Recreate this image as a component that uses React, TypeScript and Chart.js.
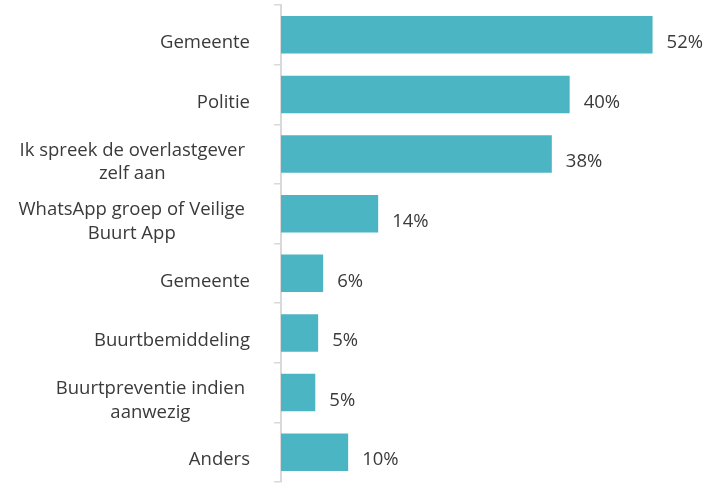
import React, { useEffect, useRef } from 'react';
import { Chart, registerables } from 'chart.js';

Chart.register(...registerables);

const categories: (string | string[])[] = [
  'Gemeente',
  'Politie',
  ['Ik spreek de overlastgever', 'zelf aan'],
  ['WhatsApp groep of Veilige', 'Buurt App'],
  'Gemeente',
  'Buurtbemiddeling',
  ['Buurtpreventie indien', 'aanwezig'],
  'Anders',
];
const values = [52, 40.4, 37.9, 13.6, 5.9, 5.2, 4.8, 9.4];
const valueLabels = ['52%', '40%', '38%', '14%', '6%', '5%', '5%', '10%'];

const FONT = '"Open Sans", sans-serif';
const FONT_SIZE = 18.5;
const TEXT = '#3a3a3a';
const BAR = '#4bb5c4';
const AXIS = '#d9d9d9';
const LABEL_RIGHT = 250;
const LINE_H = 23.5;
const TEXT_DY = 8;

export default function App() {
  const ref = useRef<HTMLCanvasElement>(null);
  useEffect(() => {
    document.body.style.margin = '0';
    const labelPlugin = {
      id: 'customLabels',
      afterDraw(chart: any) {
        const ctx = chart.ctx as CanvasRenderingContext2D;
        const yScale = chart.scales.y;
        ctx.save();
        ctx.font = `${FONT_SIZE}px ${FONT}`;
        ctx.fillStyle = TEXT;
        ctx.textBaseline = 'middle';
        ctx.textAlign = 'center';
        categories.forEach((c, i) => {
          const lines = Array.isArray(c) ? c : [c];
          const w = Math.max(...lines.map((l) => ctx.measureText(l).width));
          const right = lines.length > 1 ? LABEL_RIGHT - 5 : LABEL_RIGHT;
          const cx = right - w / 2;
          const cy = yScale.getPixelForValue(i) + TEXT_DY;
          lines.forEach((l, j) => {
            ctx.fillText(l, cx, cy + (j - (lines.length - 1) / 2) * LINE_H);
          });
        });
        const meta = chart.getDatasetMeta(0);
        ctx.textAlign = 'left';
        meta.data.forEach((bar: any, i: number) => {
          ctx.fillText(valueLabels[i], bar.x + 14, bar.y + TEXT_DY);
        });
        ctx.restore();
      },
    };
    const chart = new Chart(ref.current!, {
      type: 'bar',
      data: {
        labels: categories.map((c) => (Array.isArray(c) ? c.join(' ') : c)),
        datasets: [
          {
            data: values,
            backgroundColor: BAR,
            barPercentage: 0.63,
            categoryPercentage: 1,
          },
        ],
      },
      options: {
        indexAxis: 'y',
        responsive: false,
        animation: false,
        layout: { padding: { top: 5, bottom: 1, right: 33, left: 0 } },
        plugins: { legend: { display: false }, tooltip: { enabled: false } },
        scales: {
          x: { display: false, min: 0, max: 55 },
          y: {
            afterFit: (s: any) => {
              s.width = 281;
            },
            ticks: { display: false },
            grid: {
              drawOnChartArea: false,
              drawTicks: true,
              tickLength: 7,
              color: AXIS,
              lineWidth: 1.5,
              offset: true,
            },
            border: { display: true, color: AXIS, width: 2 },
          },
        },
      },
      plugins: [labelPlugin],
    });
    return () => chart.destroy();
  }, []);
  return <canvas ref={ref} width={707} height={483} />;
}
